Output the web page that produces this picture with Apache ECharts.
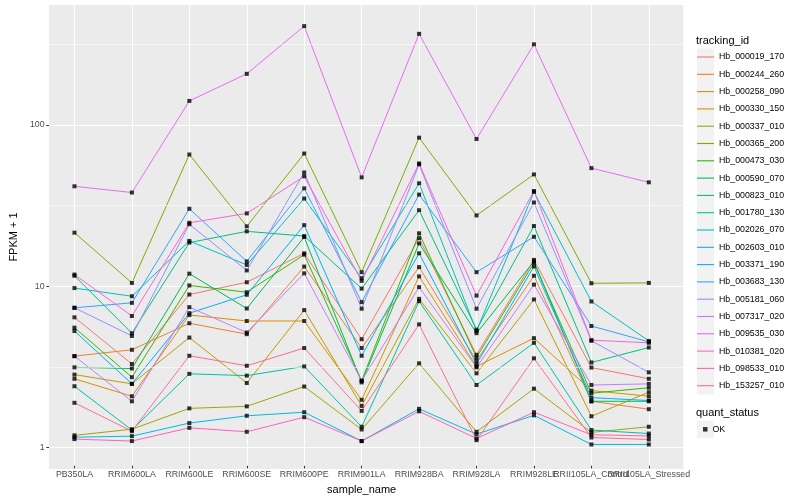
<!DOCTYPE html>
<html><head><meta charset="utf-8">
<script src="https://cdn.jsdelivr.net/npm/echarts@6/dist/echarts.min.js"></script>
<style>html,body{margin:0;padding:0;background:#fff}#c{width:800px;height:500px}</style>
</head><body><div id="c"></div>
<script>
const categories = ['PB350LA','RRIM600LA','RRIM600LE','RRIM600SE','RRIM600PE','RRIM901LA','RRIM928BA','RRIM928LA','RRIM928LE','RRII105LA_Control','RRII105LA_Stressed'];
const trackingIds = ['Hb_000019_170','Hb_000244_260','Hb_000258_090','Hb_000330_150','Hb_000337_010','Hb_000365_200','Hb_000473_030','Hb_000590_070','Hb_000823_010','Hb_001780_130','Hb_002026_070','Hb_002603_010','Hb_003371_190','Hb_003683_130','Hb_005181_060','Hb_007317_020','Hb_009535_030','Hb_010381_020','Hb_098533_010','Hb_153257_010'];

const hb_000019_170 = [6.22, 3.18, 8.63, 10.3, 15.6, 4.54, 19.4, 3.63, 14.2, 3.02, 2.57];
const hb_000244_260 = [3.56, 3.90, 5.71, 4.88, 12.9, 4.0, 12.8, 3.33, 11.3, 1.86, 1.66];
const hb_000258_090 = [2.57, 2.00, 6.43, 5.90, 5.90, 1.90, 11.2, 3.07, 4.61, 2.17, 2.00];
const hb_000330_150 = [2.73, 2.39, 4.65, 2.42, 6.90, 1.74, 8.11, 2.78, 8.04, 1.50, 2.12];
const hb_000337_010 = [1.14, 1.245, 1.68, 1.73, 2.30, 1.24, 3.21, 1.20, 2.23, 1.19, 1.29];
const hb_000365_200 = [21.0, 10.2, 64.6, 23.0, 65.5, 11.9, 82.3, 26.9, 48.5, 10.15, 10.2];
const hb_000473_030 = [5.36, 2.63, 9.83, 8.92, 15.3, 2.50, 20.8, 3.50, 13.6, 2.09, 2.26];
const hb_000590_070 = [3.03, 2.98, 11.65, 7.06, 19.7, 2.44, 18.0, 4.95, 13.9, 1.86, 1.86];
const hb_000823_010 = [11.3, 4.95, 18.2, 21.4, 20.0, 9.40, 29.0, 5.21, 23.1, 3.25, 4.03];
const hb_001780_130 = [2.31, 1.23, 2.76, 2.69, 3.07, 1.29, 7.84, 2.35, 4.31, 1.23, 1.17];
const hb_002026_070 = [9.47, 8.42, 18.65, 13.2, 34.3, 10.9, 42.7, 5.11, 37.7, 7.81, 4.43];
const hb_002603_010 = [1.11, 1.127, 1.36, 1.51, 1.59, 1.05, 1.67, 1.16, 1.52, 1.0, 1.0];
const hb_003371_190 = [5.11, 2.39, 6.60, 8.60, 23.4, 3.58, 15.6, 3.18, 12.9, 1.96, 1.88];
const hb_003683_130 = [7.13, 7.66, 29.6, 13.9, 39.7, 7.74, 36.3, 11.9, 19.8, 5.49, 4.37];
const hb_005181_060 = [7.13, 4.76, 23.7, 12.2, 49.9, 7.04, 56.0, 7.04, 32.4, 4.44, 2.82];
const hb_007317_020 = [3.56, 1.86, 7.20, 5.00, 11.7, 2.50, 9.60, 3.03, 9.95, 2.35, 2.39];
const hb_009535_030 = [40.9, 37.4, 139.5, 206, 408.8, 46.5, 366, 80.7, 314.8, 53.1, 43.3];
const hb_010381_020 = [11.5, 6.34, 24.2, 27.7, 47.2, 10.5, 56.8, 8.50, 38.2, 4.48, 4.31];
const hb_098533_010 = [1.08, 1.05, 1.27, 1.20, 1.48, 1.05, 1.61, 1.09, 1.59, 1.15, 1.13];
const hb_153257_010 = [1.82, 1.21, 3.58, 3.10, 4.0, 1.62, 5.62, 1.064, 3.45, 1.105, 1.074];

const seriesValues = [hb_000019_170, hb_000244_260, hb_000258_090, hb_000330_150, hb_000337_010, hb_000365_200, hb_000473_030, hb_000590_070, hb_000823_010, hb_001780_130, hb_002026_070, hb_002603_010, hb_003371_190, hb_003683_130, hb_005181_060, hb_007317_020, hb_009535_030, hb_010381_020, hb_098533_010, hb_153257_010];

const yTicks = [1, 10, 100];
const yMinorGrid = [3.1623, 31.623, 316.23];
const Y_MIN = 0.738, Y_MAX = 554;

const palette = ['#F8766D','#EA8331','#D89000','#C09B00','#A3A500','#7CAE00','#39B600','#00BB4E','#00BF7D','#00C1A3','#00BFC4','#00BAE0','#00B0F6','#35A2FF','#9590FF','#C77CFF','#E76BF3','#FA62DB','#FF62BC','#FF6C91'];
const FONT = "'Liberation Sans', Arial, Helvetica, sans-serif";

const lineSeries = trackingIds.map((id, k) => ({
  name: id, type: 'line', symbol: 'none', color: palette[k],
  xAxisIndex: 1, yAxisIndex: 1,
  lineStyle: { width: 1, color: palette[k] },
  data: seriesValues[k],
  z: 3, silent: true
}));

const pointData = [];
seriesValues.forEach(arr => arr.forEach((v, i) => pointData.push([i, v])));

// panel geometry (ggplot discrete expansion 0.6 units each side)
const PANEL_L = 40, PANEL_R = 683.3, PANEL_T = 5, PANEL_B = 469;
const unit = (PANEL_R - PANEL_L) / (categories.length - 1 + 1.2);
const gridLeft = PANEL_L + 0.1 * unit;
const gridWidth = unit * categories.length;

const chart = echarts.init(document.getElementById('c'), null, { renderer: 'canvas' });
chart.setOption({
  animation: false,
  backgroundColor: '#ffffff',
  textStyle: { fontFamily: FONT },
  title: [
    { text: 'tracking_id', left: 696, top: 35.5, padding: 0, textStyle: { fontSize: 11, fontWeight: 'normal', color: '#000', fontFamily: FONT } },
    { text: 'quant_status', left: 696, top: 407.3, padding: 0, textStyle: { fontSize: 11, fontWeight: 'normal', color: '#000', fontFamily: FONT } }
  ],
  graphic: [
    { type: 'rect', shape: { x: 697, y: 48.4, width: 17, height: 346 }, style: { fill: '#F2F2F2' }, silent: true, z: -10 },
    { type: 'rect', shape: { x: 697, y: 420.7, width: 17, height: 17.3 }, style: { fill: '#F2F2F2' }, silent: true, z: -10 }
  ],
  legend: [
    {
      data: trackingIds, orient: 'vertical', left: 697, top: 48.35, padding: 0,
      icon: 'rect', itemWidth: 17, itemHeight: 1.1, itemGap: 0, itemTextGap: 3,
      selectedMode: false,
      textStyle: { fontSize: 8.8, color: '#000', lineHeight: 17.3, fontFamily: FONT }
    },
    {
      data: ['OK'], orient: 'vertical', left: 703, top: 420.65, padding: 0,
      icon: 'rect', itemWidth: 4.5, itemHeight: 4.5, itemGap: 0, itemTextGap: 8.2,
      selectedMode: false,
      textStyle: { fontSize: 8.8, color: '#000', lineHeight: 17.3, fontFamily: FONT }
    }
  ],
  grid: [
    { left: PANEL_L, top: PANEL_T, width: PANEL_R - PANEL_L, height: PANEL_B - PANEL_T, show: true, backgroundColor: '#EBEBEB', borderWidth: 0, containLabel: false },
    { left: gridLeft, top: PANEL_T, width: gridWidth, height: PANEL_B - PANEL_T, show: false, containLabel: false }
  ],
  xAxis: [
    { gridIndex: 0, type: 'value', min: 0, max: 1, show: false },
    {
      gridIndex: 1, type: 'category', data: categories, boundaryGap: true,
      name: 'sample_name', nameLocation: 'middle', nameGap: 15,
      nameTextStyle: { fontSize: 11, color: '#000', fontFamily: FONT },
      axisLine: { show: false },
      axisTick: { show: true, alignWithLabel: true, length: 2.75, lineStyle: { color: '#333333', width: 1 } },
      axisLabel: { interval: 0, hideOverlap: false, fontSize: 8.8, color: '#4D4D4D', margin: 4.5, fontFamily: FONT },
      splitLine: { show: false }
    }
  ],
  yAxis: [
    {
      gridIndex: 0, type: 'log', logBase: 10, min: Y_MIN, max: Y_MAX,
      name: 'FPKM + 1', nameLocation: 'middle', nameGap: 21,
      nameTextStyle: { fontSize: 11, color: '#000', fontFamily: FONT },
      axisLine: { show: false },
      axisTick: { show: true, customValues: yTicks, length: 2.75, lineStyle: { color: '#333333', width: 1 } },
      axisLabel: { customValues: yTicks, fontSize: 8.8, color: '#4D4D4D', margin: 4.5, fontFamily: FONT },
      splitLine: { show: true, lineStyle: { color: '#FFFFFF', width: 1.1 } },
      minorSplitLine: { show: false }
    },
    { gridIndex: 1, type: 'log', logBase: 10, min: Y_MIN, max: Y_MAX, show: false, splitLine: { show: false } }
  ],
  series: [
    {
      name: '_hgrid', type: 'line', data: [], z: 1, silent: true, xAxisIndex: 0, yAxisIndex: 0,
      markLine: {
        silent: true, symbol: 'none', animation: false,
        label: { show: false },
        data: yMinorGrid.map(v => ({ yAxis: v, lineStyle: { color: '#FFFFFF', width: 0.55, type: 'solid' } }))
      }
    },
    {
      name: '_vgrid', type: 'line', data: [], z: 1, silent: true, xAxisIndex: 1, yAxisIndex: 1,
      markLine: {
        silent: true, symbol: 'none', animation: false,
        label: { show: false },
        data: categories.map(c => ({ xAxis: c, lineStyle: { color: '#FFFFFF', width: 1.1, type: 'solid' } }))
      }
    },
    ...lineSeries,
    {
      name: 'OK', type: 'scatter', symbol: 'rect', symbolSize: 4, color: '#000000',
      xAxisIndex: 1, yAxisIndex: 1,
      itemStyle: { color: '#000000' }, data: pointData, z: 5, silent: true
    }
  ]
});
</script></body></html>
